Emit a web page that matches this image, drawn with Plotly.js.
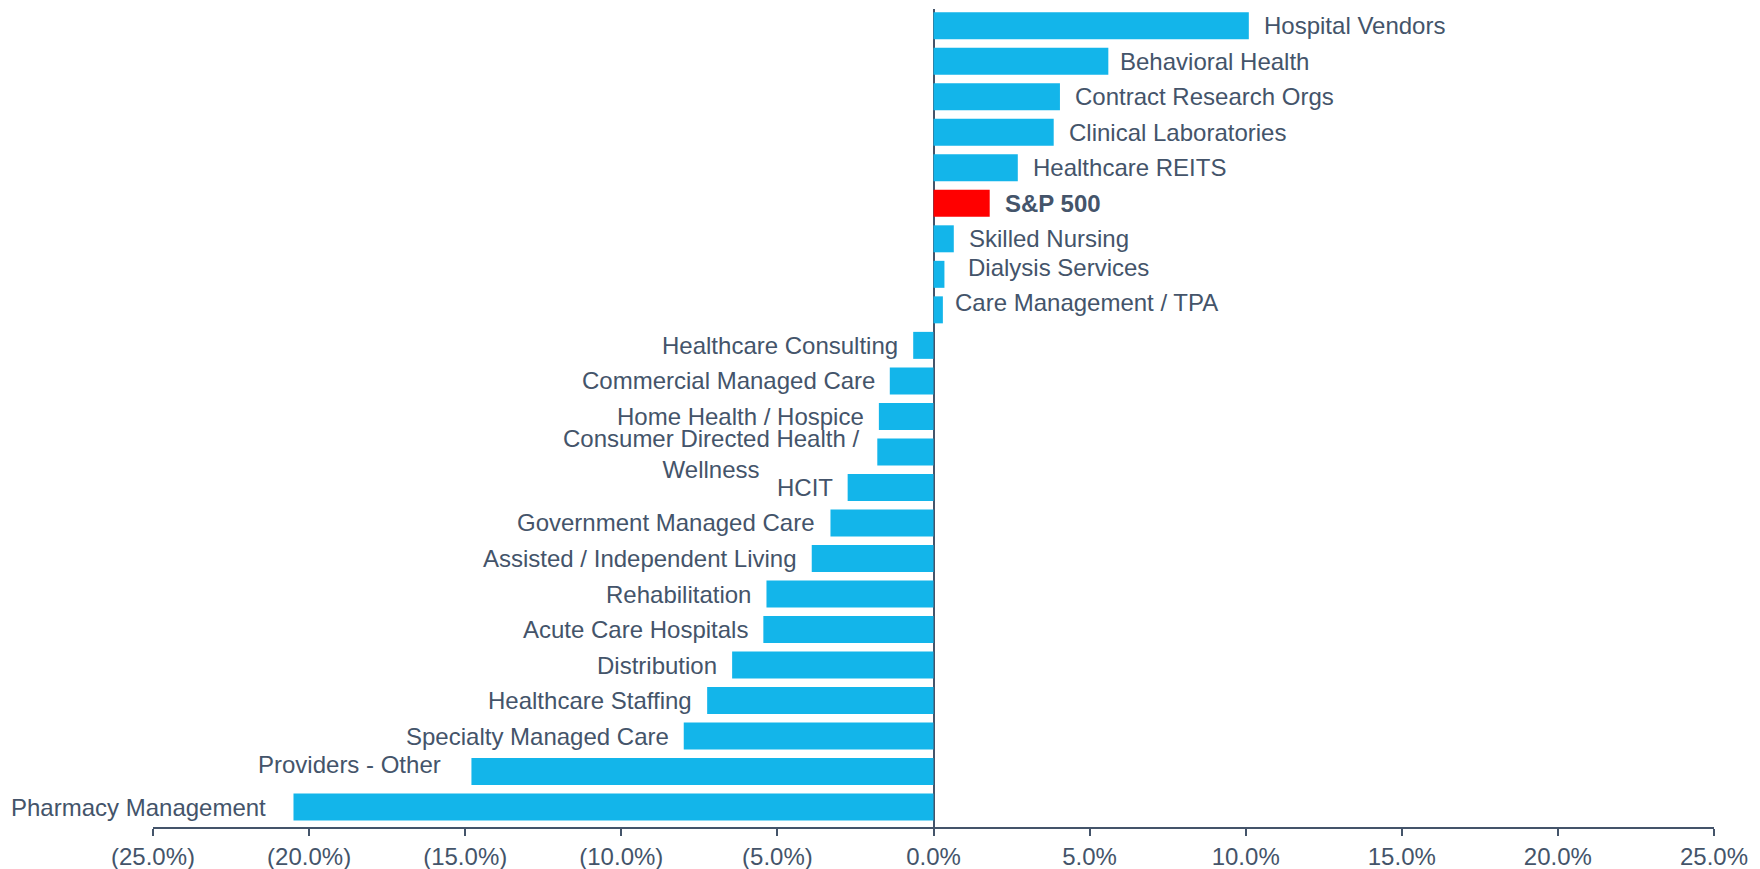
<!DOCTYPE html>
<html>
<head>
<meta charset="utf-8">
<script src="https://cdn.plot.ly/plotly-3.0.1.min.js"></script>
<style>
  html, body { margin: 0; padding: 0; background: #ffffff; }
  #chart { width: 1760px; height: 869px; }
</style>
</head>
<body>
<div id="chart"></div>
<script>
// ---- data (top to bottom) ----
const categories = [
  "Hospital Vendors", "Behavioral Health", "Contract Research Orgs", "Clinical Laboratories",
  "Healthcare REITS", "S&P 500", "Skilled Nursing", "Dialysis Services", "Care Management / TPA",
  "Healthcare Consulting", "Commercial Managed Care", "Home Health / Hospice",
  "Consumer Directed Health / Wellness", "HCIT", "Government Managed Care",
  "Assisted / Independent Living", "Rehabilitation", "Acute Care Hospitals", "Distribution",
  "Healthcare Staffing", "Specialty Managed Care", "Providers - Other", "Pharmacy Management"
];
const values = [
  10.1, 5.6, 4.05, 3.85, 2.7, 1.8, 0.65, 0.35, 0.3,
  -0.65, -1.4, -1.75, -1.8, -2.75, -3.3, -3.9, -5.35, -5.45, -6.45,
  -7.25, -8.0, -14.8, -20.5
];
const highlight = "S&P 500";
const tickValues = [-25, -20, -15, -10, -5, 0, 5, 10, 15, 20, 25];
const tickLabels = ["(25.0%)", "(20.0%)", "(15.0%)", "(10.0%)", "(5.0%)", "0.0%", "5.0%", "10.0%", "15.0%", "20.0%", "25.0%"];

// ---- styles ----
const BLUE = "#13B5EA";
const RED = "#FF0000";
const TEXT = "#44546A";
const FONT = "Liberation Sans, Arial, sans-serif";
const FS = 24;

// label display text and nudges (style only)
const labelText = {
  "Consumer Directed Health / Wellness": "Consumer Directed Health /<br>Wellness"
};
const labelNudge = {
  "Dialysis Services": {dx: 22, dy: 7},
  "Care Management / TPA": {dx: 10, dy: 7},
  "Consumer Directed Health / Wellness": {dx: 16, dy: -2},
  "Providers - Other": {dx: 28, dy: 7},
  "Pharmacy Management": {dx: 25, dy: 0},
  "Behavioral Health": {dx: 10, dy: 0}
};

const colors = categories.map(c => c === highlight ? RED : BLUE);

const trace = {
  type: "bar",
  orientation: "h",
  x: values,
  y: categories,
  marker: {color: colors, line: {width: 0}},
  hoverinfo: "x+y",
  showlegend: false
};

const annotations = categories.map((c, i) => {
  const v = values[i];
  const n = labelNudge[c] || {dx: 13, dy: 0};
  const pos = v >= 0;
  return {
    x: v,
    y: c,
    xref: "x",
    yref: "y",
    text: c === highlight ? "<b>" + c + "</b>" : (labelText[c] || c),
    showarrow: false,
    xanchor: pos ? "left" : "right",
    yanchor: "middle",
    align: "center",
    xshift: pos ? n.dx : -n.dx,
    yshift: n.dy,
    font: {family: FONT, size: FS, color: TEXT}
  };
});

const n = categories.length;
const layout = {
  width: 1760,
  height: 869,
  margin: {l: 153, r: 46, t: 9, b: 42, pad: 0},
  paper_bgcolor: "#ffffff",
  plot_bgcolor: "#ffffff",
  bargap: 0.24,
  font: {family: FONT, size: FS, color: TEXT},
  xaxis: {
    range: [-25, 25],
    tickmode: "array",
    tickvals: tickValues,
    ticktext: tickLabels,
    showgrid: false,
    zeroline: true,
    zerolinecolor: TEXT,
    zerolinewidth: 2,
    showline: true,
    linecolor: TEXT,
    linewidth: 2,
    ticks: "outside",
    ticklen: 7,
    tickwidth: 2,
    tickcolor: TEXT,
    tickfont: {family: FONT, size: FS, color: TEXT},
    fixedrange: true
  },
  yaxis: {
    type: "category",
    categoryorder: "array",
    categoryarray: categories,
    range: [n - 1 + 0.56, -0.47],
    showticklabels: false,
    showgrid: false,
    zeroline: false,
    showline: false,
    ticks: "",
    fixedrange: true
  },
  annotations: annotations
};

Plotly.newPlot("chart", [trace], layout, {displayModeBar: false, staticPlot: true});
</script>
</body>
</html>
